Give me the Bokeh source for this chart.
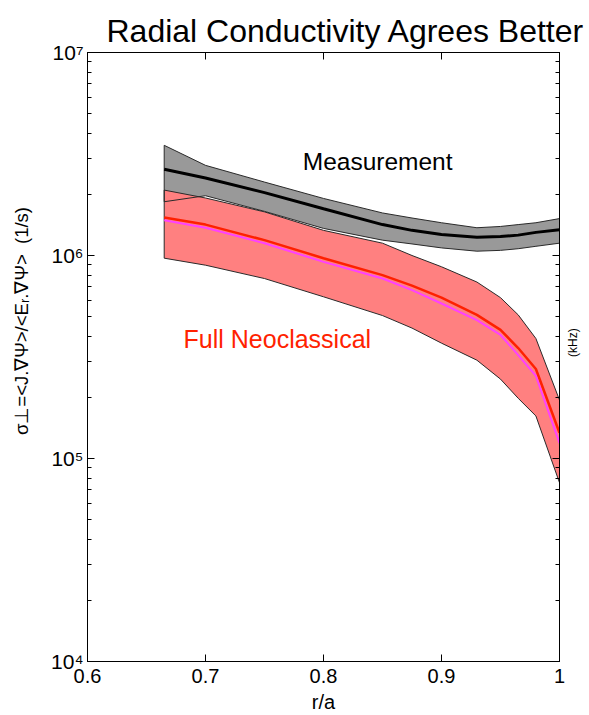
import math
from bokeh.plotting import figure
from bokeh.models import FixedTicker, LinearAxis, LogAxis, Label, CustomJSTickFormatter
from bokeh.embed import file_html
from bokeh.resources import INLINE

# ---------------- data ----------------
r = [0.665, 0.7, 0.75, 0.8, 0.85, 0.875, 0.9, 0.93, 0.95, 0.965, 0.98, 1.0]

meas_hi = [3.49e6, 2.78e6, 2.30e6, 1.91e6, 1.62e6, 1.53e6, 1.45e6, 1.37e6, 1.39e6, 1.42e6, 1.45e6, 1.52e6]
meas    = [2.66e6, 2.41e6, 2.04e6, 1.70e6, 1.42e6, 1.33e6, 1.27e6, 1.23e6, 1.24e6, 1.26e6, 1.30e6, 1.34e6]
meas_lo = [1.84e6, 1.97e6, 1.65e6, 1.36e6, 1.19e6, 1.14e6, 1.09e6, 1.05e6, 1.06e6, 1.08e6, 1.11e6, 1.15e6]

neo_hi  = [2.10e6, 1.92e6, 1.64e6, 1.33e6, 1.15e6, 1.00e6, 8.8e5, 7.4e5, 6.2e5, 5.1e5, 3.9e5, 1.94e5]
neo     = [1.54e6, 1.42e6, 1.19e6, 9.7e5, 8.0e5, 7.1e5, 6.2e5, 5.1e5, 4.3e5, 3.5e5, 2.76e5, 1.34e5]
neo_alt = [1.49e6, 1.37e6, 1.15e6, 9.3e5, 7.7e5, 6.75e5, 5.8e5, 4.8e5, 4.06e5, 3.23e5, 2.55e5, 1.19e5]
neo_lo  = [9.7e5, 8.96e5, 7.7e5, 6.26e5, 5.06e5, 4.39e5, 3.7e5, 3.05e5, 2.46e5, 1.98e5, 1.62e5, 7.6e4]

x_ticks = [0.6, 0.7, 0.8, 0.9, 1.0]
x_tick_labels = ["0.6", "0.7", "0.8", "0.9", "1"]
y_ticks = [1e4, 1e5, 1e6, 1e7]
y_tick_labels = ["10\u2074", "10\u2075", "10\u2076", "10\u2077"]
y_minor = [k * 10.0 ** n for n in (4, 5, 6) for k in range(2, 10)]

title_text = "Radial Conductivity Agrees Better"
x_label = "r/a"
y_label = "\u03c3\u22a5=<J.\u2207\u03a8>/<E\u1d63.\u2207\u03a8>\u00a0\u00a0(1/s)"
meas_text = "Measurement"
neo_text = "Full Neoclassical"
side_text = "(kHz)"

FONT = "Liberation Sans"

# ---------------- figure ----------------
p = figure(width=589, height=715, x_range=(0.6, 1.0), y_range=(1e4, 1e7),
           y_axis_type="log", output_backend="svg", toolbar_location=None,
           min_border_left=87, min_border_right=29, min_border_top=52,
           min_border_bottom=53)
p.outline_line_color = "black"
p.outline_line_width = 1
p.grid.visible = False
p.background_fill_color = "white"
p.border_fill_color = "white"

p.title.text = title_text
p.title.text_font = FONT
p.title.text_font_size = "32px"
p.title.text_font_style = "normal"
p.title.text_color = "black"
p.title.align = "left"
p.title.offset = 19
p.title.standoff = 8


def style_axis(ax):
    ax.axis_line_color = "black"
    ax.major_tick_line_color = "black"
    ax.minor_tick_line_color = "black"
    ax.major_tick_in = 7
    ax.major_tick_out = 0
    ax.minor_tick_in = 4
    ax.minor_tick_out = 0
    ax.major_label_text_font = FONT
    ax.major_label_text_color = "black"
    ax.axis_label_text_font = FONT
    ax.axis_label_text_font_style = "normal"
    ax.axis_label_text_color = "black"


xa = p.xaxis[0]
xa.ticker = FixedTicker(ticks=x_ticks)
xa.major_label_overrides = {float(t): s for t, s in zip(x_ticks, x_tick_labels)}
style_axis(xa)
xa.major_label_text_font_size = "20px"
xa.major_label_standoff = 7
xa.axis_label = x_label
xa.axis_label_text_font_size = "20px"
xa.axis_label_standoff = 5

ya = p.yaxis[0]
ya.ticker = FixedTicker(ticks=y_ticks, minor_ticks=y_minor)
ya.major_label_overrides = {float(t): s for t, s in zip(y_ticks, y_tick_labels)}
style_axis(ya)
ya.major_label_text_font_size = "21px"
ya.major_label_standoff = 4
# leading no-break spaces move the centred label up, as in the reference
ya.axis_label = "\u00a0" * 14 + y_label
ya.axis_label_text_font_size = "18.5px"
ya.axis_label_standoff = 16

blank = CustomJSTickFormatter(code="return ''")
top = LinearAxis(ticker=FixedTicker(ticks=x_ticks), formatter=blank)
style_axis(top)
top.major_label_standoff = 0
p.add_layout(top, "above")

right = LogAxis(ticker=FixedTicker(ticks=y_ticks, minor_ticks=y_minor), formatter=blank)
style_axis(right)
right.major_label_standoff = 0
right.axis_label = side_text
right.axis_label_text_font_size = "12px"
right.axis_label_standoff = 13
right.axis_label_orientation = math.pi / 2
p.add_layout(right, "right")

# ---------------- bands and lines ----------------
p.varea(x=r, y1=meas_lo, y2=meas_hi, fill_color="#999999")
p.varea(x=r, y1=neo_lo, y2=neo_hi, fill_color="#FF8080")

for lo, hi in ((meas_lo, meas_hi), (neo_lo, neo_hi)):
    px = [r[0]] + list(r) + [r[-1]] + list(reversed(r))
    py = [lo[0]] + list(hi) + [lo[-1]] + list(reversed(lo))
    p.patch(px, py, fill_color=None, line_color="#2a2a2a", line_width=1)

p.line(r, meas, line_color="black", line_width=3)
p.line(r, neo, line_color="#FF2000", line_width=2.5)
p.line(r, neo_alt, line_color="#FF40FF", line_width=2)

# ---------------- texts ----------------
p.add_layout(Label(x=0.7824, y=2.9e6, text=meas_text, text_font=FONT,
                   text_font_size="24.5px", text_color="black",
                   text_align="left", text_baseline="alphabetic"))
p.add_layout(Label(x=0.6814, y=3.9e5, text=neo_text, text_font=FONT,
                   text_font_size="25px", text_color="#FF2200",
                   text_align="left", text_baseline="alphabetic"))

open("out.html", "w").write(file_html(p, INLINE))
